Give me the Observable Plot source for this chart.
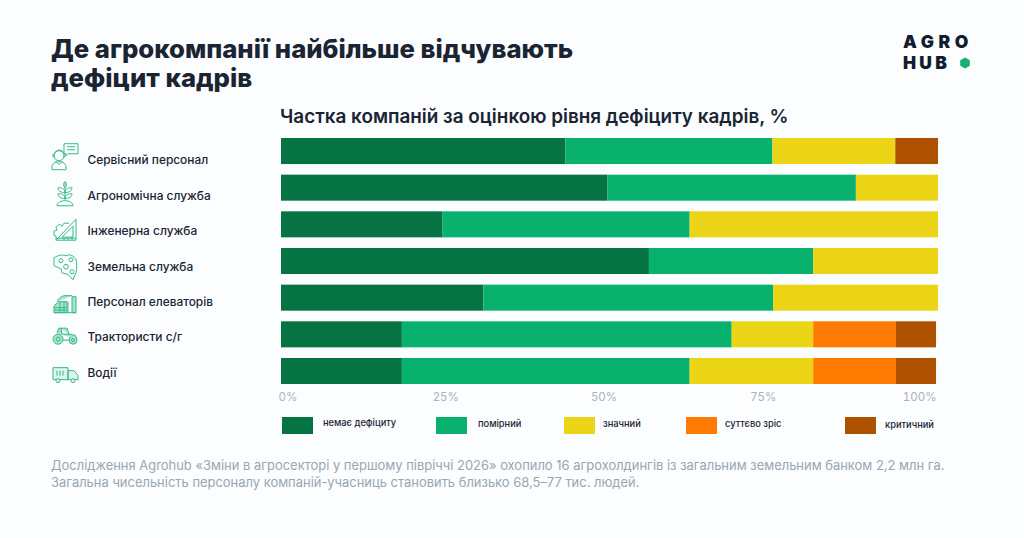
<!DOCTYPE html>
<html lang="uk"><head><meta charset="utf-8">
<script src="https://cdn.jsdelivr.net/npm/d3@7"></script>
<script src="https://cdn.jsdelivr.net/npm/@observablehq/plot@0.6"></script>
<style>
html,body{margin:0;padding:0;background:#fbfdfe;}
body{width:1024px;height:538px;overflow:hidden;position:relative;font-family:Inter,sans-serif;color:#1a2433;}
.abs{position:absolute;white-space:nowrap;}
#title{left:51px;top:35px;font-size:25.7px;font-weight:800;line-height:28.5px;letter-spacing:0;}
#sub{left:280px;top:105px;font-size:18.9px;font-weight:600;line-height:24px;}
#chart{left:0;top:130px;}
#chart svg{background:transparent;display:block;}
.sw{width:31px;height:17px;top:417px;}
.lt{font-size:9.3px;font-weight:500;line-height:14px;top:417px;}
#note{left:51px;top:457px;font-size:12.95px;line-height:17px;color:#9aa6b1;}
.logo{font-weight:900;font-size:17.5px;line-height:16px;color:#111c2e;}
</style></head><body>
<div id="title" class="abs">Де агрокомпанії найбільше відчувають<br>дефіцит кадрів</div>
<div class="abs logo" style="left:903px;top:34px;letter-spacing:4.6px">AGRO</div>
<div class="abs logo" style="left:903px;top:55px;letter-spacing:3.2px">HUB</div>
<svg class="abs" style="left:959px;top:57px" width="12" height="12" viewBox="-6 -6 12 12"><path d="M0-5.500 4.800-2.750V2.750L0 5.500-4.800 2.750V-2.750Z" fill="#16b06f"/></svg>
<div id="sub" class="abs">Частка компаній за оцінкою рівня дефіциту кадрів, %</div>
<div id="chart" class="abs"></div>
<div id="legend"></div>
<div id="note" class="abs">Дослідження Agrohub «Зміни в агросекторі у першому півріччі 2026» охопило 16 агрохолдингів із загальним земельним банком 2,2 млн га.<br>Загальна чисельність персоналу компаній-учасниць становить близько 68,5–77 тис. людей.</div>
<script>
const categories = ["Сервісний персонал","Агрономічна служба","Інженерна служба","Земельна служба","Персонал елеваторів","Трактористи с/г","Водії"];
const levels = ["немає дефіциту","помірний","значний","суттєво зріс","критичний"];
const noShortage  = [43.3,49.7,24.6,56.0,30.8,18.4,18.4];
const moderate    = [31.5,37.8,37.6,25.0,44.1,50.2,43.8];
const significant = [18.7,12.5,37.8,19.0,25.1,12.4,18.8];
const grewMuch    = [0,0,0,0,0,12.6,12.6];
const critical    = [6.5,0,0,0,0,6.1,6.1];
const tickValues  = [0,25,50,75,100];

const series = [noShortage,moderate,significant,grewMuch,critical];
const rows = series.flatMap((vals,s)=>vals.map((v,i)=>({row:categories[i],level:levels[s],value:v}))).filter(d=>d.value>0);

const colors = ["#067442","#08b26e","#ebd516","#ff7a00","#ae5200"];
const font = "Inter, sans-serif";
const labelDy = i => 8.7 - i*1.17;
const tickStyle = {anchor:"bottom",tickSize:0,tickPadding:8,label:null,fontSize:11.5,fontFamily:font,color:"#a9b3bd",tickFormat:d=>d+"%"};
const tickTweaks = [{textAnchor:"start",dx:-3},{dx:0},{dx:-6},{dx:-11},{textAnchor:"end",dx:-2}];

const I = "#35ba87";
const icons = [
 {dy:-3,body:`<circle cx="-6" cy="-1" r="5"/><path d="M-11-2a5.500 6 0 0 1 10-2M-12-3v3h2M0-3v3h-2M-13 13v-3c0-3 3-5 7-5s7 2 7 5v3ZM-9 5l3 3 3-3"/><path d="M-1-13H13V-3H3l-2 2V-3H-1Z"/><path d="M2-10H10M2-7H10"/>`},
 {dy:-1.5,body:`<path d="M0-12V6M0-12c-2 2-2 4 0 6 2-2 2-4 0-6ZM0-3c-2-3-5-3-7-3 0 3 3 5 7 5ZM0-3c2-3 5-3 7-3 0 3-3 5-7 5ZM0 3c-2-3-5-3-7-3 0 3 3 5 7 5ZM0 3c2-3 5-3 7-3 0 3-3 5-7 5Z"/><path d="M-8 12c0-3 4-5 8-5s8 2 8 5Z"/>`},
 {dy:-.5,body:`<path d="M-9 10H11V-11ZM-3 7H8V-4Z"/><path d="M-9 10l0-4-2-1v-4l3-1-1-3 3-3 3 2 2-3h5M-9 8H11M7 10V6M3 10V8M-1 10V8"/>`},
 {dy:.5,body:`<path d="M-11-9c5-3 9-3 12-2 4-2 8 0 10 4 1 4 1 9 0 13l-3 7-5-5-6-2-1-4-7-3Z"/><circle cx="-4" cy="-6" r="2"/><circle cx="1" cy="0" r="2.400"/><circle cx="6" cy="-7" r="2"/><circle cx="7" cy="5" r="2"/>`},
 {dy:2,body:`<path d="M-11 9V2l5-4h8v11ZM-11 4H2M-11 6.500H2M-5-2v11M-1-2v11M3 9V-2M7 9V-7h4V9ZM-11 9H11M-8-2c2-4 5-6 8-6h7"/>`,fill:"#a9e3c9"},
 {dy:-1,body:`<circle cx="-7" cy="3" r="5"/><circle cx="-7" cy="3" r="2"/><circle cx="8" cy="4" r="4"/><circle cx="8" cy="4" r="1.500"/><path d="M-8-3-6-8H2L4-2 10-1 12 3M-4-8-3-2H4M-2 4H4"/>`,fill:"#a9e3c9"},
 {dy:2,body:`<path d="M-12-7H3V5H-12ZM3-4H9L13 1V5H3Z"/><circle cx="-7" cy="6" r="2"/><circle cx="8" cy="6" r="2"/><path d="M-8-4V1M-5-4V1M-2-4V1"/>`,fill:"#dff5ec"}
];
const iconMark = (index,{y})=>{
  const g = d3.create("svg:g");
  categories.forEach((c,i)=>{
    const cy = y(c)+y.bandwidth()/2+labelDy(i)+icons[i].dy;
    g.append("g").attr("transform",`translate(65,${cy})`)
      .attr("fill",icons[i].fill||"none").attr("stroke",I).attr("stroke-width",1).attr("stroke-linejoin","round")
      .html(icons[i].body);
  });
  return g.node();
};

const plot = Plot.plot({
  width:1024,height:278,
  marginLeft:281,marginRight:86,marginTop:8,marginBottom:24,
  style:{background:"transparent",fontFamily:font},
  x:{domain:[0,100],label:null,axis:null},
  y:{domain:categories,paddingInner:0.29,paddingOuter:0,round:false,label:null,axis:null},
  color:{domain:levels,range:colors},
  marks:[
    Plot.barX(rows,{x:"value",y:"row",fill:"level"}),
    ...tickValues.map((t,i)=>Plot.axisX([t],{...tickStyle,...tickTweaks[i]})),
    ...categories.map((c,i)=>Plot.axisY([c],{anchor:"left",tickSize:0,tickPadding:3,label:null,textAnchor:"start",dx:-191,dy:labelDy(i),fontSize:11.9,fontWeight:500,fontFamily:font,color:"#1a2433"})),
    iconMark
  ]
});
document.getElementById("chart").append(plot);

const swatchLeft = [282,436,564,686,845];
const textLeft = [323,478,603,725,885];
const textTop = [416,417,417,417,418];
const lg = d3.select("#legend");
levels.forEach((l,i)=>{
  lg.append("div").attr("class","abs sw").style("left",swatchLeft[i]+"px").style("background",colors[i]);
  lg.append("div").attr("class","abs lt").style("left",textLeft[i]+"px").style("top",textTop[i]+"px").text(l);
});
</script>
</body></html>
